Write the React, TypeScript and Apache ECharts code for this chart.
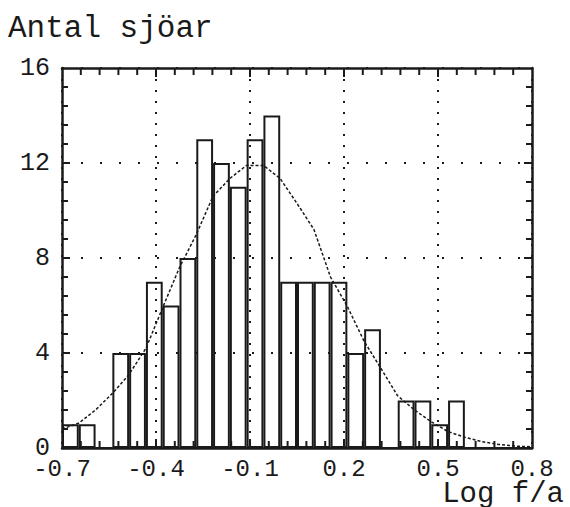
import React, { useEffect, useRef } from "react";
import * as echarts from "echarts";

// Histogram: number of lakes per bin of Log f/a (28 bins from -0.7 to 0.8)
const counts = [1, 1, 0, 4, 4, 7, 6, 8, 13, 12, 11, 13, 14, 7, 7, 7, 7, 4, 5, 0, 2, 2, 1, 2, 0, 0, 0, 0];
const binLabels = [
  "b01", "b02", "b03", "b04", "b05", "b06", "b07", "b08", "b09", "b10", "b11", "b12", "b13", "b14",
  "b15", "b16", "b17", "b18", "b19", "b20", "b21", "b22", "b23", "b24", "b25", "b26", "b27", "b28",
];
// Fitted curve read at bin edges
const curveX = [
  -0.7, -0.646, -0.593, -0.539, -0.486, -0.432, -0.379, -0.325, -0.271, -0.218, -0.164, -0.111, -0.057, -0.004,
  0.05, 0.104, 0.157, 0.211, 0.264, 0.318, 0.371, 0.425, 0.479, 0.532, 0.586, 0.639, 0.693, 0.746, 0.8,
];
const curveY = [
  0.8, 1.05, 1.6, 2.3, 3.1, 4.2, 5.9, 7.6, 9.0, 10.6, 11.35, 11.9, 11.9, 11.35,
  10.3, 9.2, 7.2, 5.95, 4.5, 3.35, 2.2, 1.6, 1.1, 0.69, 0.45, 0.27, 0.15, 0.08, 0.05,
];
const xTickLabels = ["-0.7", "-0.4", "-0.1", "0.2", "0.5", "0.8"];
const yTickLabels = ["0", "4", "8", "12", "16"];
const yTitle = "Antal sjöar";
const xTitle = "Log f/a";

const FONT = '"Liberation Mono", "DejaVu Sans Mono", monospace';
const INK = "#1a1a1a";
const MINOR_SPLIT = 5;

export default function App() {
  const ref = useRef<HTMLDivElement>(null);
  useEffect(() => {
    if (!ref.current) return;
    const chart = echarts.init(ref.current, null, { renderer: "svg" });
    const xMajors = xTickLabels.map(parseFloat);
    const yMajors = yTickLabels.map(parseFloat);
    const xMin = xMajors[0];
    const xMax = xMajors[xMajors.length - 1];
    const xInt = xMajors[1] - xMajors[0];
    const yMin = yMajors[0];
    const yMax = yMajors[yMajors.length - 1];
    const yInt = yMajors[1] - yMajors[0];

    const withMinors = (majors: number[]) => {
      const out: { v: number; major: boolean }[] = [];
      for (let i = 0; i < majors.length; i++) {
        out.push({ v: majors[i], major: true });
        if (i < majors.length - 1) {
          for (let k = 1; k < MINOR_SPLIT; k++) {
            out.push({ v: majors[i] + ((majors[i + 1] - majors[i]) * k) / MINOR_SPLIT, major: false });
          }
        }
      }
      return out;
    };

    // inward frame ticks as small rect symbols placed through the axes' scales
    const bottomTicks: any[] = [];
    const topTicks: any[] = [];
    const leftTicks: any[] = [];
    const rightTicks: any[] = [];
    withMinors(xMajors).forEach((t) => {
      if (t.v === xMin || t.v === xMax) return;
      const len = t.major ? 9 : 7;
      bottomTicks.push({ value: [t.v, yMin], symbolSize: [2, len], symbolOffset: [0, -len / 2] });
      topTicks.push({ value: [t.v, yMax], symbolSize: [2, len], symbolOffset: [0, len / 2] });
    });
    withMinors(yMajors).forEach((t) => {
      if (t.v === yMin || t.v === yMax) return;
      const len = t.major ? 8 : 6;
      leftTicks.push({ value: [xMin, t.v], symbolSize: [len, 2], symbolOffset: [len / 2, 0] });
      rightTicks.push({ value: [xMax, t.v], symbolSize: [len, 2], symbolOffset: [-len / 2, 0] });
    });
    const tickSeries = (data: any[]) => ({
      type: "scatter",
      xAxisIndex: 0,
      yAxisIndex: 0,
      symbol: "rect",
      itemStyle: { color: INK, opacity: 1 },
      emphasis: { disabled: true },
      data,
      z: 10,
    });

    const frameAxis = {
      axisLine: { show: true, onZero: false, lineStyle: { color: INK, width: 2.5 } },
      axisTick: { show: false },
    };

    chart.setOption({
      animation: false,
      grid: { left: 62, right: 38, top: 68, bottom: 59 },
      graphic: [
        {
          type: "text",
          x: 8,
          y: 28,
          style: { text: yTitle, fontFamily: FONT, fontSize: 31, fill: INK, verticalAlign: "middle", align: "left" },
        },
        {
          type: "text",
          x: 564,
          y: 494,
          style: { text: xTitle, fontFamily: FONT, fontSize: 29, fill: INK, verticalAlign: "middle", align: "right" },
        },
      ],
      xAxis: [
        {
          type: "value",
          position: "bottom",
          min: xMin,
          max: xMax,
          interval: xInt,
          ...frameAxis,
          axisLabel: {
            show: true,
            margin: 9,
            fontFamily: FONT,
            fontSize: 24,
            color: INK,
            formatter: (v: number) => {
              const idx = Math.round((v - xMin) / xInt);
              return xTickLabels[idx] ?? "";
            },
          },
          splitLine: { show: true, lineStyle: { color: INK, type: [2, 9], width: 2 } },
        },
        {
          type: "value",
          position: "top",
          min: xMin,
          max: xMax,
          interval: xInt,
          ...frameAxis,
          axisLabel: { show: false },
          splitLine: { show: false },
        },
        {
          type: "category",
          data: binLabels,
          show: false,
          boundaryGap: true,
        },
      ],
      yAxis: [
        {
          type: "value",
          position: "left",
          min: yMin,
          max: yMax,
          interval: yInt,
          ...frameAxis,
          axisLabel: {
            show: true,
            margin: 12,
            fontFamily: FONT,
            fontSize: 25,
            color: INK,
          },
          splitLine: { show: true, lineStyle: { color: INK, type: [2, 17], width: 2 } },
        },
        {
          type: "value",
          position: "right",
          min: yMin,
          max: yMax,
          interval: yInt,
          ...frameAxis,
          axisLabel: { show: false },
          splitLine: { show: false },
        },
      ],
      series: [
        {
          type: "bar",
          xAxisIndex: 2,
          yAxisIndex: 0,
          data: counts,
          barWidth: "100%",
          barCategoryGap: "0%",
          itemStyle: { color: "rgba(0,0,0,0)", borderColor: INK, borderWidth: 2 },
          z: 3,
        },
        {
          type: "line",
          xAxisIndex: 0,
          yAxisIndex: 0,
          data: curveX.map((x, i) => [x, curveY[i]]),
          showSymbol: false,
          symbol: "none",
          lineStyle: { color: INK, width: 1.5, type: [3, 2] },
          z: 4,
        },
        tickSeries(bottomTicks),
        tickSeries(topTicks),
        tickSeries(leftTicks),
        tickSeries(rightTicks),
      ],
    });
    return () => chart.dispose();
  }, []);
  return <div ref={ref} style={{ position: "absolute", left: 0, top: 0, width: 570, height: 507 }} />;
}
